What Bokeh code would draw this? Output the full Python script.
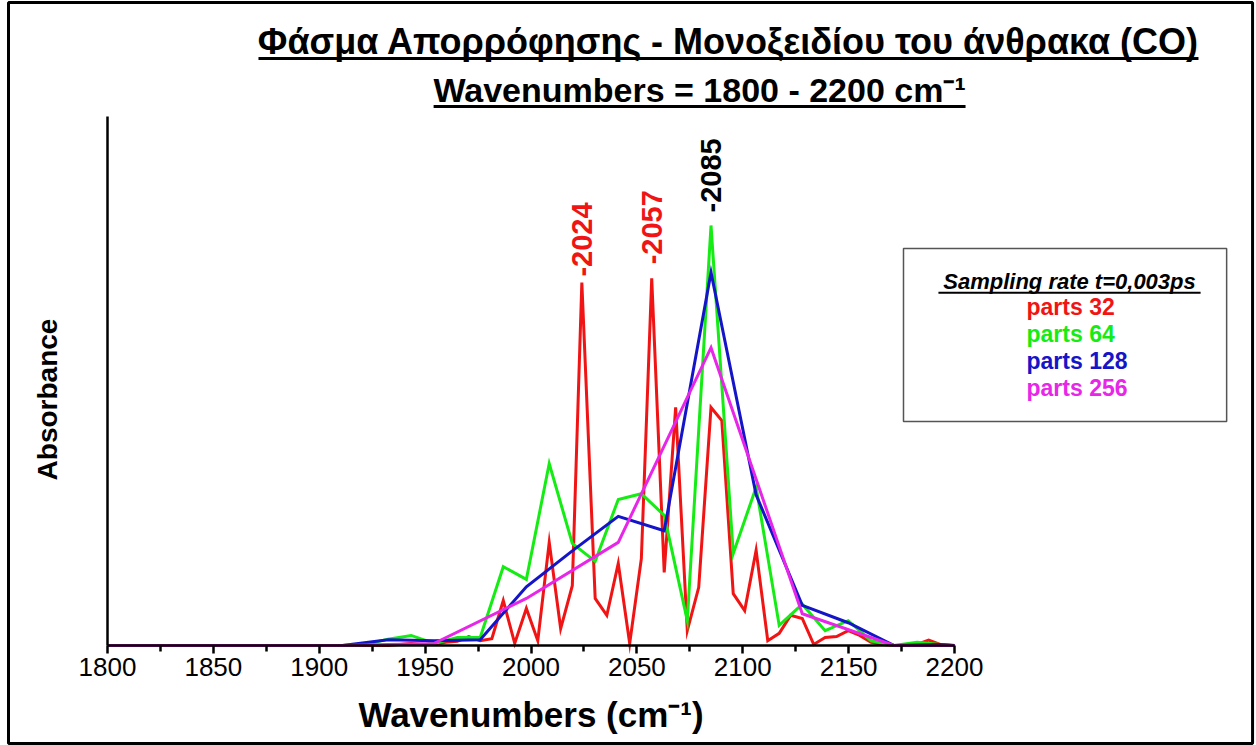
import math

from bokeh.plotting import figure
from bokeh.models import Range1d, FixedTicker, Label, LinearAxis
from bokeh.embed import file_html
from bokeh.resources import INLINE

# ---- spectra: wavenumber (cm^-1) and absorbance (arb. units) per FFT length ----
x_32 = [1800.0, 1802.3, 1807.8, 1813.2, 1818.6, 1824.0, 1829.5, 1834.9, 1840.3, 1845.7,
        1851.2, 1856.6, 1862.0, 1867.5, 1872.9, 1878.3, 1883.7, 1889.2, 1894.6, 1900.0,
        1905.4, 1910.9, 1916.3, 1921.7, 1927.2, 1932.6, 1938.0, 1943.4, 1948.8, 1954.3,
        1959.7, 1965.2, 1970.6, 1976.0, 1981.5, 1986.9, 1992.3, 1997.8, 2003.2, 2008.6,
        2014.0, 2019.5, 2024.0, 2030.3, 2035.8, 2041.2, 2046.6, 2052.1, 2057.0, 2062.9,
        2068.3, 2073.8, 2079.2, 2085.0, 2090.1, 2095.5, 2100.9, 2106.3, 2111.8, 2117.2,
        2122.6, 2128.1, 2133.5, 2138.9, 2144.3, 2149.8, 2155.2, 2160.6, 2166.1, 2171.5,
        2176.9, 2182.3, 2187.8, 2193.2, 2198.6, 2200.0]
a_32 = [0, 0, 0, 0, 0, 0, 0, 0, 0, 0,
        0, 0, 0, 0, 0, 0, 0, 0, 0, 0,
        0, 0, 0, 0, 0, 0, 0.002, 0.004, 0.002, 0.002,
        0.006, 0.008, 0.017, 0.009, 0.013, 0.085, 0.004, 0.070, 0.009, 0.195,
        0.032, 0.113, 0.686, 0.089, 0.057, 0.155, 0.004, 0.164, 0.694, 0.138,
        0.450, 0.028, 0.110, 0.450, 0.425, 0.098, 0.066, 0.180, 0.009, 0.023,
        0.057, 0.051, 0.002, 0.015, 0.017, 0.028, 0.019, 0.006, 0.002, 0,
        0, 0.002, 0.010, 0.002, 0, 0]

x_64 = [1800.0, 1802.3, 1813.2, 1824.0, 1834.9, 1845.7, 1856.6, 1867.5, 1878.3, 1889.2,
        1900.0, 1910.9, 1921.7, 1932.5, 1943.4, 1954.3, 1965.2, 1976.0, 1986.9, 1997.8,
        2008.6, 2019.5, 2030.3, 2041.2, 2052.1, 2062.9, 2073.8, 2085.0, 2095.5, 2106.3,
        2117.2, 2128.1, 2138.9, 2149.8, 2160.6, 2171.5, 2182.3, 2193.2, 2200.0]
a_64 = [0, 0, 0, 0, 0, 0, 0, 0, 0, 0,
        0, 0, 0.002, 0.012, 0.019, 0.004, 0.015, 0.015, 0.149, 0.125,
        0.344, 0.193, 0.159, 0.276, 0.287, 0.246, 0.047, 0.794, 0.174, 0.299,
        0.038, 0.078, 0.028, 0.047, 0.009, 0, 0.006, 0.002, 0]

x_128 = [1800.0, 1802.3, 1824.0, 1845.7, 1867.5, 1889.2, 1910.9, 1932.6, 1954.3, 1976.0,
         1997.8, 2019.5, 2041.2, 2062.9, 2085.0, 2106.3, 2128.1, 2149.8, 2171.5, 2193.2,
         2200.0]
a_128 = [0, 0, 0, 0, 0, 0, 0, 0.011, 0.009, 0.011,
         0.111, 0.179, 0.244, 0.217, 0.705, 0.285, 0.076, 0.043, 0, 0.002,
         0]

x_256 = [1800.0, 1824.0, 1867.5, 1910.9, 1954.3, 1997.8, 2041.2, 2085.0, 2128.1, 2171.5,
         2200.0]
a_256 = [0, 0, 0, 0, 0.004, 0.089, 0.195, 0.563, 0.060, 0, 0]

series_names = ["parts 32", "parts 64", "parts 128", "parts 256"]
series_colors = ["#f01414", "#14ec14", "#1414c8", "#e826e8"]

# marked peaks: wavenumber, absorbance at the peak, label colour, gap above peak (px)
peak_x = [2024.0, 2057.0, 2085.0]
peak_y = [0.686, 0.694, 0.794]
peak_colors = ["#f01414", "#f01414", "#000000"]
peak_gap = [6, 14, 13]

x_major = [1800, 1850, 1900, 1950, 2000, 2050, 2100, 2150, 2200]
x_minor = [1825, 1875, 1925, 1975, 2025, 2075, 2125, 2175]

FONT = "Liberation Sans"

# the plotting frame fills the whole page; axes sit at fixed data positions
p = figure(width=1256, height=745,
           x_range=Range1d(1749.47, 2342.6), y_range=Range1d(-0.18904, 1.21928),
           output_backend="svg", toolbar_location=None,
           x_axis_location=None, y_axis_location=None,
           min_border_left=0, min_border_right=0,
           min_border_top=0, min_border_bottom=0)
p.outline_line_color = None
p.background_fill_color = "white"
p.border_fill_color = "white"
p.xgrid.visible = False
p.ygrid.visible = False

xaxis = LinearAxis(bounds=(1800, 2200), fixed_location=0,
                   ticker=FixedTicker(ticks=x_major, minor_ticks=x_minor))
xaxis.axis_line_width = 2.5
xaxis.major_tick_line_width = 2.5
xaxis.minor_tick_line_width = 2.5
xaxis.major_tick_out = 8
xaxis.major_tick_in = 0
xaxis.minor_tick_out = 6
xaxis.minor_tick_in = 0
xaxis.major_label_text_font = FONT
xaxis.major_label_text_font_size = "26px"
xaxis.major_label_text_color = "black"
xaxis.major_label_standoff = 5
p.add_layout(xaxis, "below")

yaxis = LinearAxis(bounds=(0, 1), fixed_location=1800, ticker=FixedTicker(ticks=[]))
yaxis.axis_line_width = 2.5
yaxis.major_tick_out = 0
yaxis.minor_tick_out = 0
yaxis.major_label_text_font_size = "0px"
p.add_layout(yaxis, "left")

# spectra
for xs, ys, c in [(x_32, a_32, series_colors[0]), (x_64, a_64, series_colors[1]),
                  (x_128, a_128, series_colors[2]), (x_256, a_256, series_colors[3])]:
    p.line(xs, ys, line_color=c, line_width=3, line_join="miter")

# peak markers
for px_, py_, c, gap in zip(peak_x, peak_y, peak_colors, peak_gap):
    p.add_layout(Label(x=px_, y=py_, text="-%d" % px_, angle=math.pi / 2,
                       text_align="left", text_baseline="middle", y_offset=gap,
                       text_font=FONT, text_font_style="bold", text_font_size="29px",
                       text_color=c))

# headings
p.add_layout(Label(x=2093.3, y=1.1418, text="Φάσμα Απορρόφησης - Μονοξειδίου του άνθρακα (CO)",
                   text_align="center", text_baseline="middle", text_font=FONT,
                   text_font_style="bold", text_font_size="36px", text_color="black"))
p.add_layout(Label(x=2079.6, y=1.051, text="Wavenumbers = 1800 - 2200 cm⁻¹",
                   text_align="center", text_baseline="middle", text_font=FONT,
                   text_font_style="bold", text_font_size="34px", text_color="black"))
p.segment(x0=[1871.3, 1954.0], y0=[1.1096, 1.0189], x1=[2315.2, 2205.2], y1=[1.1096, 1.0189],
          line_color="black", line_width=3)

# axis titles
p.add_layout(Label(x=1771.7, y=0.465, text="Absorbance", angle=math.pi / 2,
                   text_align="center", text_baseline="middle", text_font=FONT,
                   text_font_style="bold", text_font_size="28px", text_color="black"))
p.add_layout(Label(x=2000, y=-0.1304, text="Wavenumbers (cm⁻¹)",
                   text_align="center", text_baseline="middle", text_font=FONT,
                   text_font_style="bold", text_font_size="35px", text_color="black"))

# legend box
p.quad(left=[2175.9], right=[2328.5], top=[0.7505], bottom=[0.4234],
       fill_color="white", line_color="#555555", line_width=1.5)
p.add_layout(Label(x=2254.3, y=0.688, text="Sampling rate t=0,003ps",
                   text_align="center", text_baseline="middle", text_font=FONT,
                   text_font_style="bold italic", text_font_size="22px", text_color="black"))
p.segment(x0=[2192.4], y0=[0.667], x1=[2316.2], y1=[0.667], line_color="black", line_width=2)
for name, c, yy in zip(series_names, series_colors, [0.639, 0.588, 0.537, 0.486]):
    p.add_layout(Label(x=2234.0, y=yy, text=name, text_align="left",
                       text_baseline="middle", text_font=FONT, text_font_style="bold",
                       text_font_size="23px", text_color=c))

# page frame
p.quad(left=[1753.25], right=[2340.74], top=[1.2155], bottom=[-0.18526],
       fill_alpha=0, line_color="black", line_width=3)

open("out.html", "w").write(file_html(p, INLINE))
